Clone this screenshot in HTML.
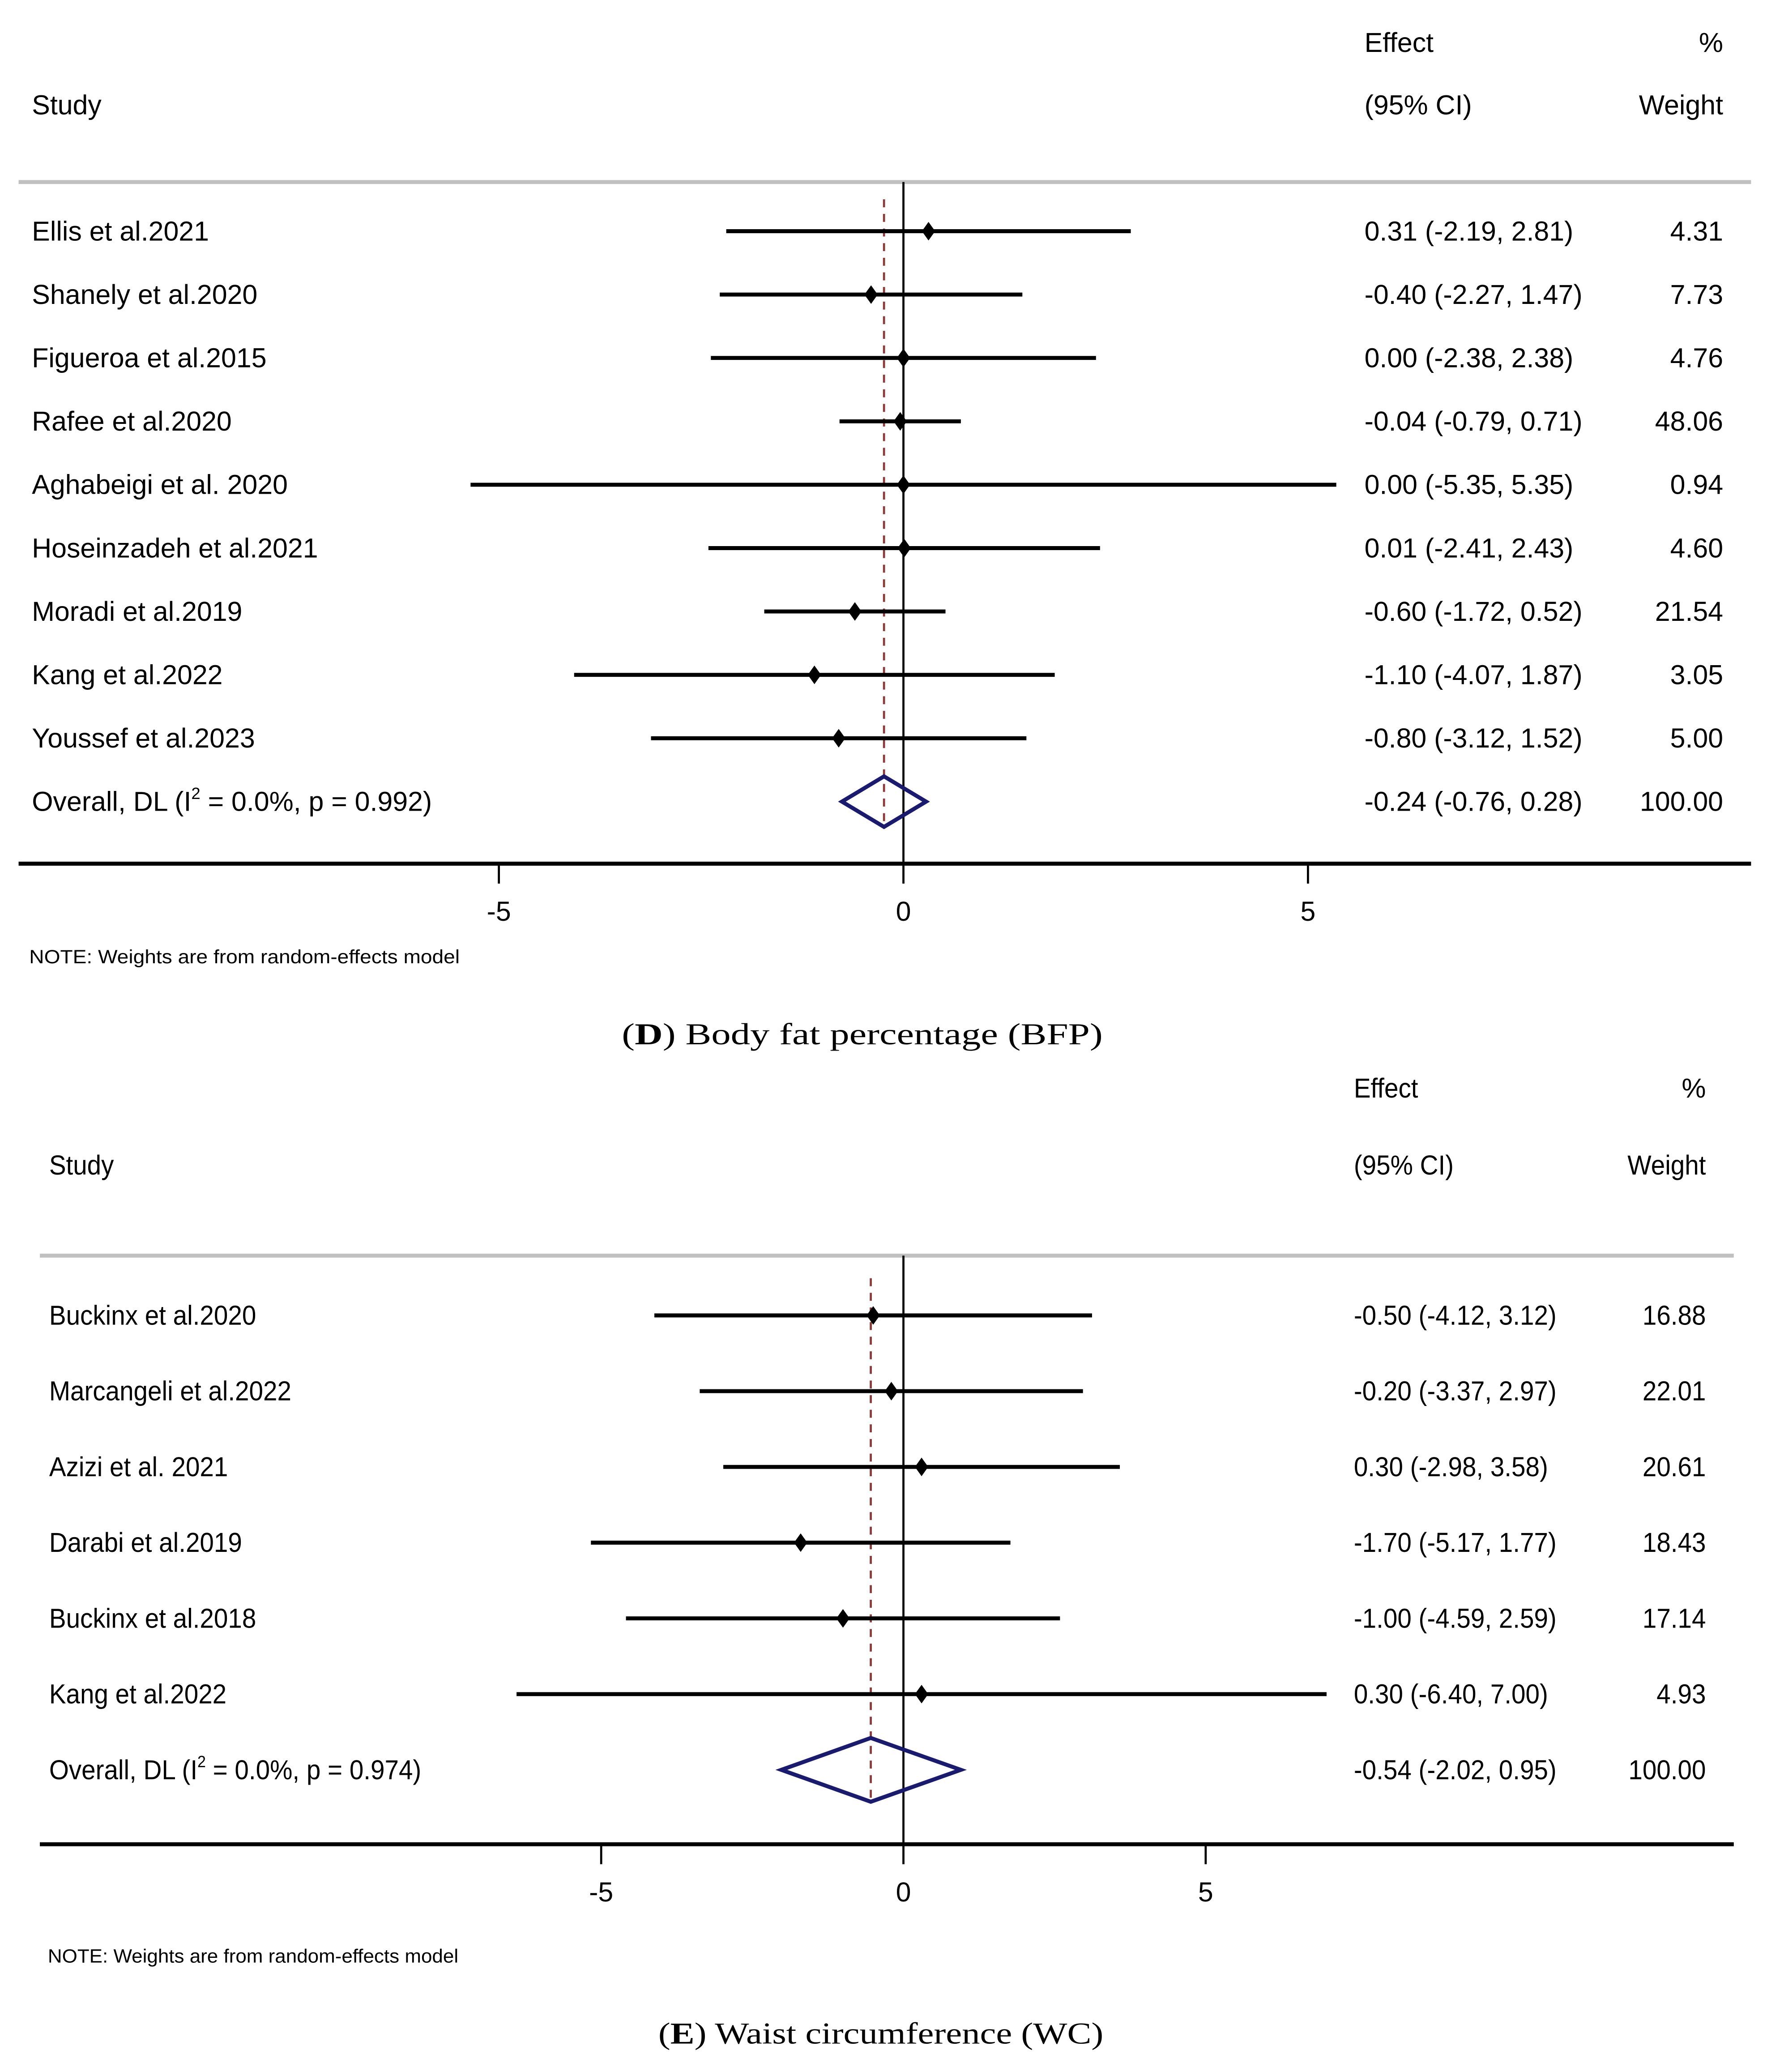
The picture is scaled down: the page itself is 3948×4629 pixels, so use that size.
<!DOCTYPE html>
<html><head><meta charset="utf-8"><style>
html,body{margin:0;padding:0;background:#fff;}
svg{display:block;}
text{font-family:"Liberation Sans",Arial,sans-serif;fill:#000;}
.serif{font-family:"Liberation Serif",serif;}
</style></head><body>
<svg id="chart" xmlns="http://www.w3.org/2000/svg" width="3948" height="4629" viewBox="0 0 1330 1559.4" preserveAspectRatio="none">
<rect width="1330" height="1559.4" fill="#fff"/>
<g id="pD"></g>
<g id="pE"></g>
</svg>
<script>
// Panel D data
const dStudies=["Ellis et al.2021","Shanely et al.2020","Figueroa et al.2015","Rafee et al.2020","Aghabeigi et al. 2020","Hoseinzadeh et al.2021","Moradi et al.2019","Kang et al.2022","Youssef et al.2023"];
const dEffect=[0.31,-0.40,0.00,-0.04,0.00,0.01,-0.60,-1.10,-0.80];
const dLower=[-2.19,-2.27,-2.38,-0.79,-5.35,-2.41,-1.72,-4.07,-3.12];
const dUpper=[2.81,1.47,2.38,0.71,5.35,2.43,0.52,1.87,1.52];
const dWeight=["4.31","7.73","4.76","48.06","0.94","4.60","21.54","3.05","5.00"];
const dOverall=[-0.24,-0.76,0.28];
const dTicks=[-5,0,5];
// Panel E data
const eStudies=["Buckinx et al.2020","Marcangeli et al.2022","Azizi et al. 2021","Darabi et al.2019","Buckinx et al.2018","Kang et al.2022"];
const eEffect=[-0.50,-0.20,0.30,-1.70,-1.00,0.30];
const eLower=[-4.12,-3.37,-2.98,-5.17,-4.59,-6.40];
const eUpper=[3.12,2.97,3.58,1.77,2.59,7.00];
const eWeight=["16.88","22.01","20.61","18.43","17.14","4.93"];
const eOverall=[-0.54,-2.02,0.95];
const eTicks=[-5,0,5];

const NS="http://www.w3.org/2000/svg";
function mk(parent,tag,attrs,txt){const e=document.createElementNS(NS,tag);for(const k in attrs)e.setAttribute(k,attrs[k]);if(txt!==undefined)e.textContent=txt;parent.appendChild(e);return e;}
function fmt(v){return v.toFixed(2);}

function panel(g,cfg,studies,eff,lo,hi,wt,ov,ticks,overallP){
  const X=v=>cfg.x0+v*cfg.ppu;
  const fs=cfg.fs;
  const squeeze=[];
  let t;
  t=mk(g,'text',{x:cfg.ciX,y:cfg.h1,'font-size':fs},'Effect');
  
  
  squeeze.push(t);
  t=mk(g,'text',{x:cfg.wX,y:cfg.h1,'font-size':fs,'text-anchor':'end'},'%');
  
  
  t=mk(g,'text',{x:cfg.sX,y:cfg.h2,'font-size':fs},'Study');
  
  
  squeeze.push(t);
  t=mk(g,'text',{x:cfg.ciX,y:cfg.h2,'font-size':fs},'(95% CI)');
  
  
  squeeze.push(t);
  t=mk(g,'text',{x:cfg.wX,y:cfg.h2,'font-size':fs,'text-anchor':'end'},'Weight');
  
  
  squeeze.push(t);
  let l=mk(g,'line',{x1:cfg.lx1,x2:cfg.lx2,y1:cfg.top,y2:cfg.top,stroke:'#c0c0c0','stroke-width':3});
  
  
  l=mk(g,'line',{x1:X(0),x2:X(0),y1:cfg.top,y2:cfg.axisY,stroke:'#000','stroke-width':1.6});
  
  
  const n=studies.length;
  const rowY=i=>cfg.r0+i*cfg.dr;
  l=mk(g,'line',{x1:X(ov[0]),x2:X(ov[0]),y1:cfg.dashTop,y2:rowY(n)+cfg.dh+1,stroke:'#8b3a3a','stroke-width':1.6,'stroke-dasharray':'6,5'});
  
  
  for(let i=0;i<n;i++){
    const y=rowY(i);
    const row=mk(g,'g',{});
    
    
    t=mk(row,'text',{x:cfg.sX,y:y+7,'font-size':fs},studies[i]);
    
    
    squeeze.push(t);
    const ln=mk(row,'line',{x1:X(lo[i]),x2:X(hi[i]),y1:y,y2:y,stroke:'#000','stroke-width':3});
    
    
    const cx=X(eff[i]);
    const p=mk(row,'polygon',{points:`${cx-5},${y} ${cx},${y-7} ${cx+5},${y} ${cx},${y+7}`,fill:'#000'});
    
    
    t=mk(row,'text',{x:cfg.ciX,y:y+7,'font-size':fs},`${fmt(eff[i])} (${fmt(lo[i])}, ${fmt(hi[i])})`);
    
    
    squeeze.push(t);
    t=mk(row,'text',{x:cfg.wX,y:y+7,'font-size':fs,'text-anchor':'end'},wt[i]);
    
    
    squeeze.push(t);
  }
  const oy=rowY(n);
  const ot=mk(g,'text',{x:cfg.sX,y:oy+7,'font-size':fs});
  
  
  ot.appendChild(document.createTextNode('Overall, DL (I'));
  mk(ot,'tspan',{'font-size':fs*0.6,dy:-9},'2');
  mk(ot,'tspan',{dy:9},' = 0.0%, p = '+overallP+')');
  const dm=mk(g,'polygon',{points:`${X(ov[1])},${oy} ${X(ov[0])},${oy-cfg.dh} ${X(ov[2])},${oy} ${X(ov[0])},${oy+cfg.dh}`,fill:'none',stroke:'#1a1a6e','stroke-width':3});
  
  
  t=mk(g,'text',{x:cfg.ciX,y:oy+7,'font-size':fs},`${fmt(ov[0])} (${fmt(ov[1])}, ${fmt(ov[2])})`);
  
  
  squeeze.push(t);
  t=mk(g,'text',{x:cfg.wX,y:oy+7,'font-size':fs,'text-anchor':'end'},'100.00');
  
  
  squeeze.push(t);
  l=mk(g,'line',{x1:cfg.lx1,x2:cfg.lx2,y1:cfg.axisY,y2:cfg.axisY,stroke:'#000','stroke-width':3});
  
  
  ticks.forEach(v=>{
    const tk=mk(g,'line',{x1:X(v),x2:X(v),y1:cfg.axisY,y2:cfg.axisY+15,stroke:'#000','stroke-width':1.6});
    
    
    const tl=mk(g,'text',{x:X(v),y:cfg.axisY+43,'font-size':fs,'text-anchor':'middle'},String(v));
    
    
  });
  t=mk(g,'text',{x:cfg.noteX,y:cfg.noteY,'font-size':14.5,textLength:cfg.noteW,lengthAdjust:'spacingAndGlyphs'},'NOTE: Weights are from random-effects model');
  
  
  const cap=mk(g,'text',{x:cfg.capX,y:cfg.capY,'font-size':23,'text-anchor':'middle','class':'serif',textLength:cfg.capW,lengthAdjust:'spacingAndGlyphs'});
  
  
  cap.appendChild(document.createTextNode('('));
  mk(cap,'tspan',{'font-weight':'bold'},cfg.letter);
  cap.appendChild(document.createTextNode(') '+cfg.caption));
  if(cfg.sx!==1){
    squeeze.push(ot);
    squeeze.forEach(el=>{
      const w=el.getComputedTextLength();
      el.setAttribute('textLength',(w*cfg.sx).toFixed(1));
      el.setAttribute('lengthAdjust','spacingAndGlyphs');
    });
  }
}
panel(document.getElementById('pD'),{x0:680,ppu:60.9,fs:20.5,sx:1,sX:24,ciX:1027,wX:1297,h1:39,h2:86,top:137,lx1:14,lx2:1318,r0:174,dr:47.7,dh:19,dashTop:150,axisY:650,noteX:22,noteY:725,noteW:324,capX:649,capW:362,capY:786,letter:'D',caption:'Body fat percentage (BFP)'},dStudies,dEffect,dLower,dUpper,dWeight,dOverall,dTicks,'0.992');
panel(document.getElementById('pE'),{x0:680,ppu:45.5,fs:20.5,sx:0.93,sX:37,ciX:1019,wX:1284,h1:826,h2:884,top:945,lx1:30,lx2:1305,r0:990,dr:57,dh:24,dashTop:962,axisY:1388,noteX:36,noteY:1477,noteW:309,capX:663,capW:335,capY:1538,letter:'E',caption:'Waist circumference (WC)'},eStudies,eEffect,eLower,eUpper,eWeight,eOverall,eTicks,'0.974');
</script>
</body></html>
